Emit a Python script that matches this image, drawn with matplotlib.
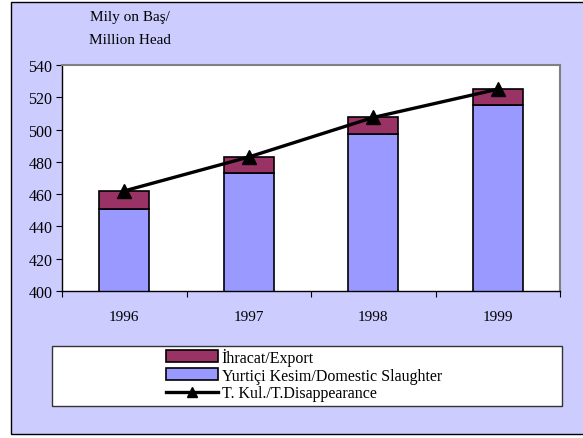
import matplotlib.pyplot as plt
from matplotlib.patches import Rectangle
from matplotlib.lines import Line2D

years = ['1996', '1997', '1998', '1999']
domestic = [451, 473, 497.5, 515]
export = [11, 10, 10, 10]
disappearance = [462, 483, 507.5, 525]

plt.rcParams['font.family'] = ['Liberation Serif', 'DejaVu Serif']

W, H = 583, 439
fig = plt.figure(figsize=(W / 100, H / 100), dpi=100)
fig.patch.set_facecolor('white')

# outer panel with border (right edge runs off the picture)
bg = Rectangle((11 / W, 1 - 435 / H), (W + 5 - 11) / W, (435 - 3) / H,
               transform=fig.transFigure, facecolor='#CCCCFF',
               edgecolor='black', linewidth=1, zorder=-10)
fig.patches.append(bg)

ax = fig.add_axes([62 / W, 1 - 292 / H, (560 - 62) / W, (292 - 66) / H])
ax.set_zorder(1)
ax.set_facecolor('white')

x = range(len(years))
ax.bar(x, domestic, width=0.4, bottom=0, color='#9999FF', edgecolor='black', linewidth=1.2,
       label='Yurtiçi Kesim/Domestic Slaughter', zorder=2)
ax.bar(x, export, width=0.4, bottom=domestic, color='#993366', edgecolor='black', linewidth=1.2,
       label='İhracat/Export', zorder=2)
ax.plot(x, disappearance, color='black', linewidth=2.4, marker='^', markersize=10,
        label='T. Kul./T.Disappearance', zorder=3)

ax.set_ylim(400, 540)
ax.set_yticks(range(400, 541, 20))
ax.set_xlim(-0.5, 3.5)
ax.set_xticks([-0.5, 0.5, 1.5, 2.5, 3.5])
ax.set_xticklabels([])
ax.set_xticks(list(x), minor=True)
ax.set_xticklabels(years, minor=True)
ax.tick_params(axis='x', which='minor', length=0, pad=14, labelsize=11)
ax.tick_params(axis='x', which='major', length=4, direction='out')
ax.tick_params(axis='y', length=4, direction='out', labelsize=11.5, pad=3)

for s in ['left', 'bottom']:
    ax.spines[s].set_color('black')
    ax.spines[s].set_linewidth(1)
for s in ['top', 'right']:
    ax.spines[s].set_color('#808080')
    ax.spines[s].set_linewidth(1.5)

fig.text(130 / W, 1 - 17 / H, 'Mily on Baş/', ha='center', va='center', fontsize=11)
fig.text(130 / W, 1 - 40 / H, 'Million Head', ha='center', va='center', fontsize=11)

# legend box
fig.patches.append(Rectangle((52 / W, 1 - 407 / H), (562 - 52) / W, (407 - 347) / H,
                             transform=fig.transFigure, facecolor='white',
                             edgecolor='#333333', linewidth=1, zorder=1))
handles = [Rectangle((0, 0), 1, 1, facecolor='#993366', edgecolor='black', linewidth=1.2),
           Rectangle((0, 0), 1, 1, facecolor='#9999FF', edgecolor='black', linewidth=1.2),
           Line2D([], [], color='black', linewidth=2.4, marker='^', markersize=7)]
labels = ['İhracat/Export', 'Yurtiçi Kesim/Domestic Slaughter', 'T. Kul./T.Disappearance']
fig.legend(handles, labels, loc='upper left', bbox_to_anchor=(164 / W, 1 - 347 / H),
           frameon=False, fontsize=11.5, handlelength=3.3, handleheight=0.7,
           handletextpad=0.2, labelspacing=0.12, borderpad=0.1, borderaxespad=0)

fig.savefig('out.png', dpi=100)
